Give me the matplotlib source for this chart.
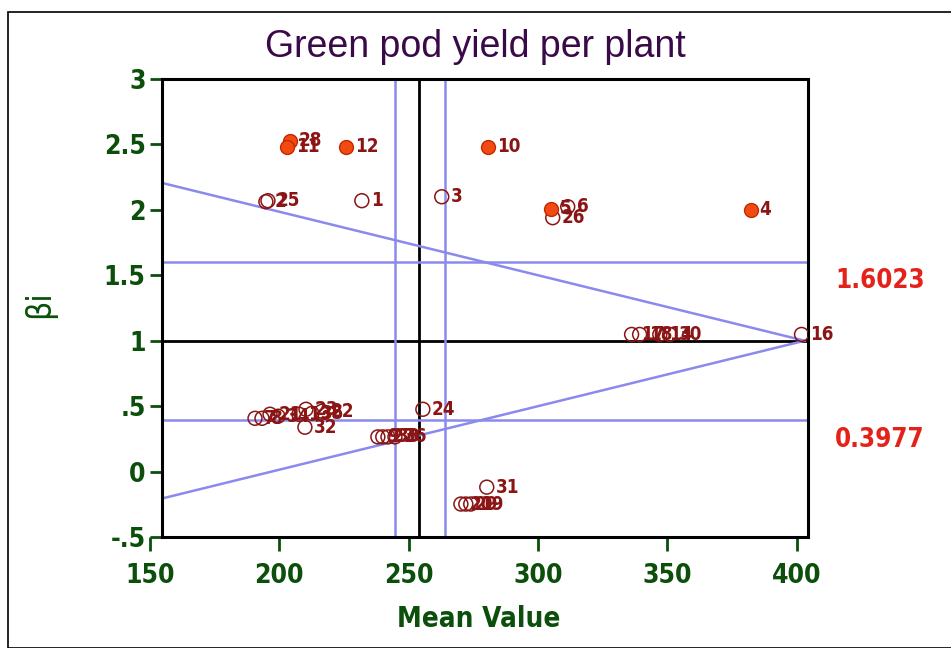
import numpy as np
import matplotlib.pyplot as plt
from matplotlib.patches import Rectangle

# genotype means and regression coefficients (bi)
filled_ids = ["28", "11", "12", "10", "5", "4"]
filled_mean = [204.1, 202.9, 225.7, 280.6, 304.9, 382.2]
filled_bi = [2.527, 2.481, 2.481, 2.481, 2.009, 2.0]

hollow_ids = ["1", "2", "25", "3", "6", "26", "16",
              "17", "18", "14", "30", "24", "31",
              "20", "29", "19", "9", "27", "33", "36",
              "7", "8", "21", "34", "13", "23", "35", "22", "32"]
hollow_mean = [231.9, 194.8, 195.6, 262.8, 311.5, 305.7, 401.9,
               336.2, 339.3, 347.1, 350.9, 255.5, 280.2,
               270.2, 272.1, 274.0, 238.1, 240.0, 242.0, 244.7,
               190.6, 193.3, 196.4, 199.5, 207.6, 210.3, 212.6, 216.5, 209.9]
hollow_bi = [2.07, 2.062, 2.07, 2.10, 2.024, 1.94, 1.048,
             1.048, 1.048, 1.048, 1.048, 0.476, -0.119,
             -0.248, -0.248, -0.248, 0.265, 0.265, 0.265, 0.265,
             0.407, 0.407, 0.438, 0.423, 0.438, 0.476, 0.445, 0.461, 0.339]

# reference lines
mean_grand = 253.9
mean_low, mean_high = 244.7, 264.0
bi_high, bi_low = 1.6023, 0.3977
apex_x = 403.1
diag_left = [2.205, -0.205]

x_ticks = [150, 200, 250, 300, 350, 400]
y_ticks = [3, 2.5, 2, 1.5, 1, 0.5, 0, -0.5]
y_ticklabels = ["3", "2.5", "2", "1.5", "1", ".5", "0", "-.5"]

green = '#0B4F0B'
lab_col = '#8B1414'
blue = '#8A8AEE'
narrow = ['DejaVu Sans']

fig = plt.figure(figsize=(9.51, 6.48), dpi=100)
ax = fig.add_axes([150/951, 111/648, 658/951, 458/648])

x0, x1 = 154.8, 404.4
ax.set_xlim(150, x1)
ax.set_ylim(-0.5, 3)

# lines
ax.plot([x0, x1], [1, 1], color='black', lw=2)
ax.plot([mean_grand, mean_grand], [-0.5, 3], color='black', lw=2)
for yv in [bi_high, bi_low]:
    ax.plot([x0, x1], [yv, yv], color=blue, lw=1.8)
for xv in [mean_low, mean_high]:
    ax.plot([xv, xv], [-0.5, 3], color=blue, lw=1.8)
for yl in diag_left:
    ax.plot([x0, apex_x], [yl, 1], color=blue, lw=1.8)

# points
ax.scatter(hollow_mean, hollow_bi, s=100, facecolors='none', edgecolors=lab_col, linewidths=1.1, zorder=3)
ax.scatter(filled_mean, filled_bi, s=100, facecolors='#F24A12', edgecolors='#C02A00', linewidths=1.0, zorder=4)
for lbl, xv, yv in zip(hollow_ids + filled_ids, hollow_mean + filled_mean, hollow_bi + filled_bi):
    ax.annotate(lbl, (xv, yv), xytext=(6.5, 0), textcoords='offset points', va='center', ha='left',
                color=lab_col, fontsize=13.5, fontweight='bold', family=narrow, fontstretch='condensed', zorder=5)

# axes styling
for sp in ['left', 'right', 'top', 'bottom']:
    ax.spines[sp].set_linewidth(2.2)
    ax.spines[sp].set_color('black')
ax.spines['left'].set_position(('data', x0))
ax.spines['bottom'].set_bounds(x0, x1)
ax.spines['top'].set_bounds(x0, x1)

ax.set_xticks(x_ticks)
ax.set_xticklabels([str(t) for t in x_ticks])
ax.set_yticks(y_ticks)
ax.set_yticklabels(y_ticklabels)
ax.tick_params(axis='both', colors=green, width=2, labelsize=19)
ax.tick_params(axis='x', length=10, pad=9)
ax.tick_params(axis='y', length=9, pad=3)
for t in ax.get_xticklabels() + ax.get_yticklabels():
    t.set_fontweight('bold')
    t.set_family(narrow)
    t.set_fontstretch('condensed')

ax.set_xlabel('Mean Value', color=green, fontsize=20, fontweight='bold', family=narrow,
              fontstretch='condensed', labelpad=11)
fig.text(0.042, 0.53, 'βi', color=green, fontsize=24, rotation=90, ha='center', va='center',
         fontstretch='condensed')

fig.text(0.5, 0.928, 'Green pod yield per plant', color='#3A0A48', fontsize=27,
         family=['Liberation Sans', 'DejaVu Sans'], ha='center', va='center')

fig.text(0.878, 0.566, '1.6023', color='#E3231A', fontsize=18.5, fontweight='bold', family=narrow,
         fontstretch='condensed', va='center')
fig.text(0.878, 0.321, '0.3977', color='#E3231A', fontsize=18.5, fontweight='bold', family=narrow,
         fontstretch='condensed', va='center')

# outer border
fig.patches.append(Rectangle((8/951, 0), 1, 1 - 12/648, transform=fig.transFigure,
                             fill=False, edgecolor='black', lw=1.2))

fig.savefig('out.png', dpi=100)
